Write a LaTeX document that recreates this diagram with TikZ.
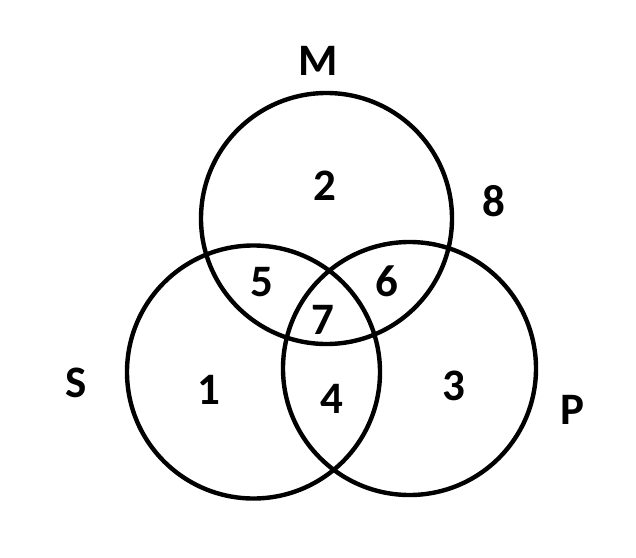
\documentclass[tikz,border=0pt]{standalone}
\usepackage{fontspec}
\setmainfont{Carlito}
\begin{document}
\begin{tikzpicture}[x=1pt,y=-1pt,
  setcirc/.style={draw=black,line width=4.4pt,circle,inner sep=0pt,minimum size=#1},
  lbl/.style={inner sep=0pt,anchor=center,font=\fontsize{45}{45}\selectfont\bfseries}]
\useasboundingbox (0,0) rectangle (636,557);
\node[setcirc=251pt] (cM) at (326.5,218.5) {};
\node[setcirc=253pt] (cS) at (253.5,372) {};
\node[setcirc=253pt] (cP) at (409.5,368.5) {};
\node[lbl] (tM) at (318.5,61) {M};
\node[lbl] (tS) at (76.5,382.5) {S};
\node[lbl] (tP) at (572.5,409.5) {P};
\node[lbl] (n2) at (325,185.5) {2};
\node[lbl] (n8) at (493.5,201) {8};
\node[lbl] (n5) at (262,282) {5};
\node[lbl] (n6) at (386.5,281) {6};
\node[lbl] (n7) at (322.5,319.5) {7};
\node[lbl] (n1) at (208.5,390) {1};
\node[lbl] (n4) at (332,398.5) {4};
\node[lbl] (n3) at (453.5,385.5) {3};
\end{tikzpicture}
\end{document}
